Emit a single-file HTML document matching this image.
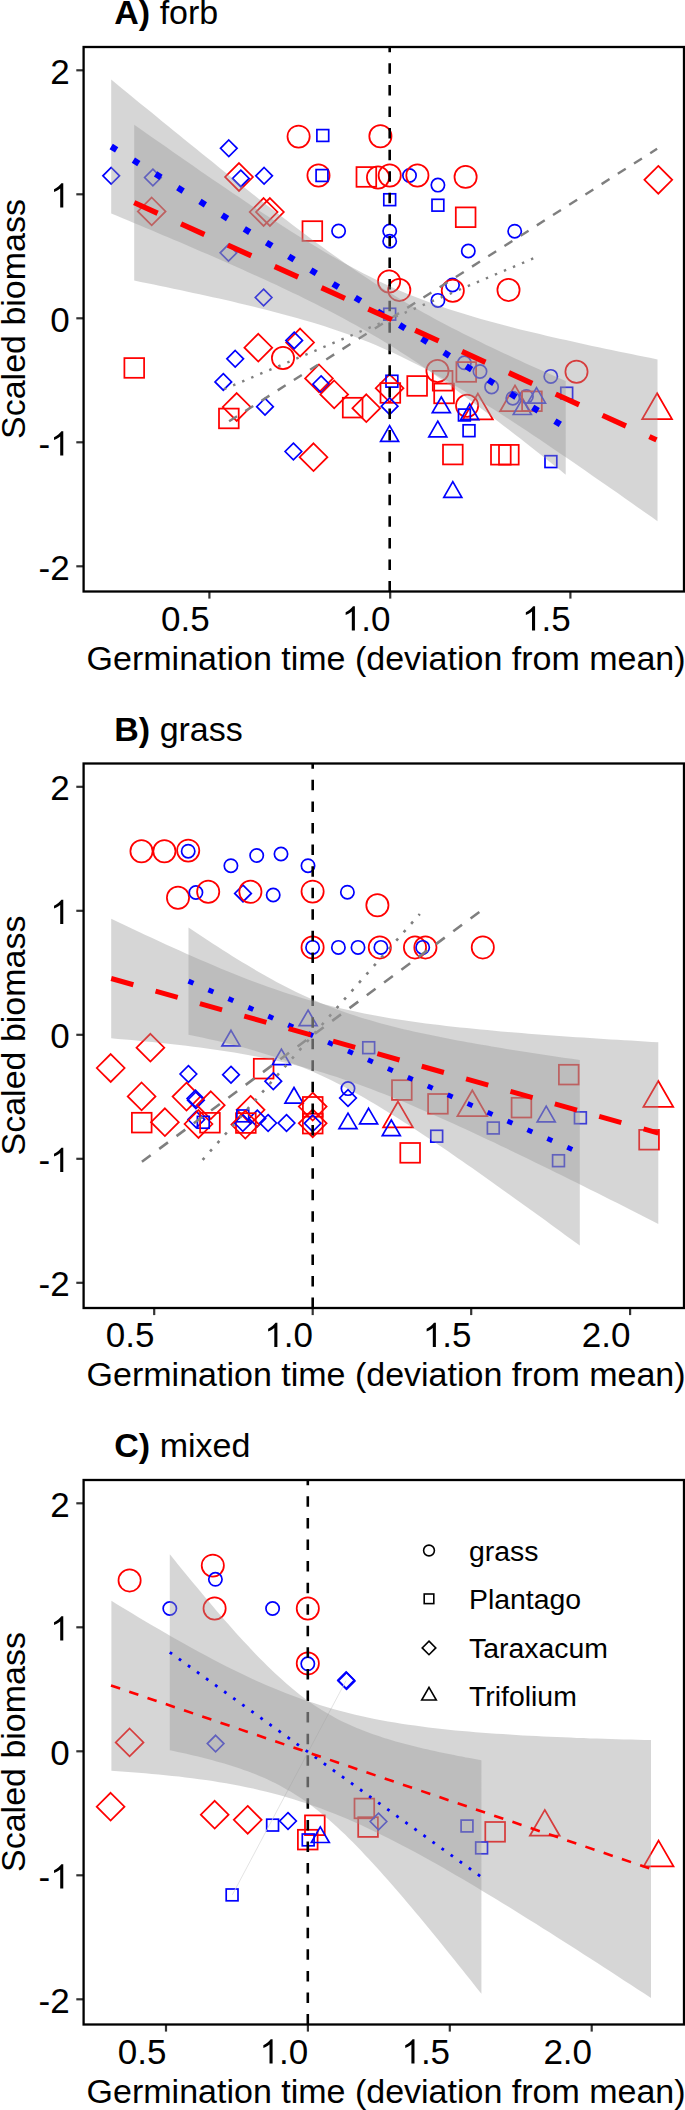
<!DOCTYPE html>
<html><head><meta charset="utf-8"><style>
html,body{margin:0;padding:0;background:#fff;}
svg{display:block;}
</style></head><body>
<svg width="685" height="2110" viewBox="0 0 685 2110"><text x="114.3" y="24.3" font-size="34" font-family="Liberation Sans, sans-serif"><tspan font-weight="bold">A)</tspan> forb</text>
<line x1="76.3" y1="70.3" x2="84.0" y2="70.3" stroke="#333333" stroke-width="2.2" stroke-linecap="butt"/>
<text x="50.2" y="83.5" font-size="35" text-anchor="start" font-family="Liberation Sans, sans-serif">2</text>
<line x1="76.3" y1="194.3" x2="84.0" y2="194.3" stroke="#333333" stroke-width="2.2" stroke-linecap="butt"/>
<path d="M763 0L583 0L583-1147C530-1097 450-1043 360-994C310-968 262-948 222-935L222-1110C305-1148 392-1199 470-1266C550-1335 614-1403 651-1466L763-1466Z" transform="translate(50.24 207.50) scale(0.01709 0.01651)" fill="#000"/>
<line x1="76.3" y1="318.3" x2="84.0" y2="318.3" stroke="#333333" stroke-width="2.2" stroke-linecap="butt"/>
<text x="50.2" y="331.5" font-size="35" text-anchor="start" font-family="Liberation Sans, sans-serif">0</text>
<line x1="76.3" y1="442.3" x2="84.0" y2="442.3" stroke="#333333" stroke-width="2.2" stroke-linecap="butt"/>
<text x="38.6" y="455.5" font-size="35" text-anchor="start" font-family="Liberation Sans, sans-serif">-</text>
<path d="M763 0L583 0L583-1147C530-1097 450-1043 360-994C310-968 262-948 222-935L222-1110C305-1148 392-1199 470-1266C550-1335 614-1403 651-1466L763-1466Z" transform="translate(50.24 455.50) scale(0.01709 0.01651)" fill="#000"/>
<line x1="76.3" y1="566.3" x2="84.0" y2="566.3" stroke="#333333" stroke-width="2.2" stroke-linecap="butt"/>
<text x="38.6" y="579.5" font-size="35" text-anchor="start" font-family="Liberation Sans, sans-serif">-2</text>
<line x1="209.4" y1="591.5" x2="209.4" y2="598.6" stroke="#333333" stroke-width="2.2" stroke-linecap="butt"/>
<text x="161.1" y="630.5" font-size="35" text-anchor="start" font-family="Liberation Sans, sans-serif">0.5</text>
<line x1="390.2" y1="591.5" x2="390.2" y2="598.6" stroke="#333333" stroke-width="2.2" stroke-linecap="butt"/>
<path d="M763 0L583 0L583-1147C530-1097 450-1043 360-994C310-968 262-948 222-935L222-1110C305-1148 392-1199 470-1266C550-1335 614-1403 651-1466L763-1466Z" transform="translate(341.85 630.50) scale(0.01709 0.01651)" fill="#000"/>
<text x="361.3" y="630.5" font-size="35" text-anchor="start" font-family="Liberation Sans, sans-serif">.0</text>
<line x1="570.4" y1="591.5" x2="570.4" y2="598.6" stroke="#333333" stroke-width="2.2" stroke-linecap="butt"/>
<path d="M763 0L583 0L583-1147C530-1097 450-1043 360-994C310-968 262-948 222-935L222-1110C305-1148 392-1199 470-1266C550-1335 614-1403 651-1466L763-1466Z" transform="translate(522.05 630.50) scale(0.01709 0.01651)" fill="#000"/>
<text x="541.5" y="630.5" font-size="35" text-anchor="start" font-family="Liberation Sans, sans-serif">.5</text>
<text x="86.6" y="669.6" font-size="34" text-anchor="start" font-family="Liberation Sans, sans-serif">Germination time (deviation from mean)</text>
<text x="0" y="0" font-size="34" text-anchor="middle" font-family="Liberation Sans, sans-serif" transform="translate(25.2 319.0) rotate(-90)">Scaled biomass</text>
<rect x="83.6" y="47.0" width="600.4" height="544.5" fill="none" stroke="#000" stroke-width="2.3"/>
<path d="M111.2 167.5L119.5 175.8L111.2 184.1L102.9 175.8Z" fill="none" stroke="#0000ff" stroke-width="1.7"/>
<path d="M152.9 169.2L161.2 177.5L152.9 185.8L144.6 177.5Z" fill="none" stroke="#0000ff" stroke-width="1.7"/>
<path d="M228.8 140.0L237.1 148.3L228.8 156.6L220.5 148.3Z" fill="none" stroke="#0000ff" stroke-width="1.7"/>
<path d="M239.0 163.1L252.9 177.0L239.0 190.9L225.1 177.0Z" fill="none" stroke="#ff0000" stroke-width="1.75"/>
<path d="M240.8 170.1L249.1 178.4L240.8 186.7L232.5 178.4Z" fill="none" stroke="#0000ff" stroke-width="1.7"/>
<path d="M264.1 167.5L272.4 175.8L264.1 184.1L255.8 175.8Z" fill="none" stroke="#0000ff" stroke-width="1.7"/>
<path d="M263.6 198.1L277.5 212.0L263.6 225.9L249.7 212.0Z" fill="none" stroke="#ff0000" stroke-width="1.75"/>
<path d="M269.9 198.1L283.8 212.0L269.9 225.9L256.0 212.0Z" fill="none" stroke="#ff0000" stroke-width="1.75"/>
<path d="M151.7 197.5L165.6 211.4L151.7 225.3L137.8 211.4Z" fill="none" stroke="#ff0000" stroke-width="1.75"/>
<circle cx="298.6" cy="136.6" r="11.10" fill="none" stroke="#ff0000" stroke-width="1.75"/>
<rect x="316.9" y="129.6" width="11.8" height="11.8" fill="none" stroke="#0000ff" stroke-width="1.7"/>
<circle cx="380.4" cy="136.3" r="11.10" fill="none" stroke="#ff0000" stroke-width="1.75"/>
<circle cx="318.5" cy="175.5" r="11.10" fill="none" stroke="#ff0000" stroke-width="1.75"/>
<rect x="316.1" y="169.6" width="11.8" height="11.8" fill="none" stroke="#0000ff" stroke-width="1.7"/>
<rect x="356.5" y="167.1" width="19.7" height="19.7" fill="none" stroke="#ff0000" stroke-width="1.75"/>
<circle cx="378.0" cy="177.5" r="11.10" fill="none" stroke="#ff0000" stroke-width="1.75"/>
<circle cx="389.7" cy="175.5" r="11.10" fill="none" stroke="#ff0000" stroke-width="1.75"/>
<circle cx="409.5" cy="175.5" r="6.65" fill="none" stroke="#0000ff" stroke-width="1.7"/>
<circle cx="417.4" cy="175.5" r="11.10" fill="none" stroke="#ff0000" stroke-width="1.75"/>
<circle cx="437.9" cy="185.1" r="6.65" fill="none" stroke="#0000ff" stroke-width="1.7"/>
<circle cx="465.6" cy="176.9" r="11.10" fill="none" stroke="#ff0000" stroke-width="1.75"/>
<rect x="383.8" y="193.8" width="11.8" height="11.8" fill="none" stroke="#0000ff" stroke-width="1.7"/>
<rect x="432.0" y="199.3" width="11.8" height="11.8" fill="none" stroke="#0000ff" stroke-width="1.7"/>
<rect x="455.8" y="207.4" width="19.7" height="19.7" fill="none" stroke="#ff0000" stroke-width="1.75"/>
<rect x="302.5" y="221.2" width="19.7" height="19.7" fill="none" stroke="#ff0000" stroke-width="1.75"/>
<circle cx="338.6" cy="231.0" r="6.65" fill="none" stroke="#0000ff" stroke-width="1.7"/>
<circle cx="389.7" cy="231.0" r="6.65" fill="none" stroke="#0000ff" stroke-width="1.7"/>
<circle cx="389.7" cy="241.2" r="6.65" fill="none" stroke="#0000ff" stroke-width="1.7"/>
<circle cx="468.3" cy="251.0" r="6.65" fill="none" stroke="#0000ff" stroke-width="1.7"/>
<path d="M658.3 165.9L672.2 179.8L658.3 193.7L644.4 179.8Z" fill="none" stroke="#ff0000" stroke-width="1.75"/>
<circle cx="514.7" cy="231.2" r="6.65" fill="none" stroke="#0000ff" stroke-width="1.7"/>
<path d="M228.5 244.5L236.8 252.8L228.5 261.1L220.2 252.8Z" fill="none" stroke="#0000ff" stroke-width="1.7"/>
<path d="M263.6 289.2L271.9 297.5L263.6 305.8L255.3 297.5Z" fill="none" stroke="#0000ff" stroke-width="1.7"/>
<path d="M258.3 333.8L272.2 347.7L258.3 361.6L244.4 347.7Z" fill="none" stroke="#ff0000" stroke-width="1.75"/>
<path d="M235.2 350.5L243.5 358.8L235.2 367.1L226.9 358.8Z" fill="none" stroke="#0000ff" stroke-width="1.7"/>
<rect x="124.4" y="358.1" width="19.7" height="19.7" fill="none" stroke="#ff0000" stroke-width="1.75"/>
<path d="M223.3 373.6L231.6 381.9L223.3 390.2L215.0 381.9Z" fill="none" stroke="#0000ff" stroke-width="1.7"/>
<path d="M236.7 393.1L250.6 407.0L236.7 420.9L222.8 407.0Z" fill="none" stroke="#ff0000" stroke-width="1.75"/>
<rect x="219.0" y="408.6" width="19.7" height="19.7" fill="none" stroke="#ff0000" stroke-width="1.75"/>
<path d="M265.0 398.4L273.3 406.7L265.0 415.0L256.7 406.7Z" fill="none" stroke="#0000ff" stroke-width="1.7"/>
<circle cx="283.0" cy="358.0" r="11.10" fill="none" stroke="#ff0000" stroke-width="1.75"/>
<circle cx="389.1" cy="281.5" r="11.10" fill="none" stroke="#ff0000" stroke-width="1.75"/>
<circle cx="399.3" cy="289.9" r="11.10" fill="none" stroke="#ff0000" stroke-width="1.75"/>
<circle cx="452.5" cy="285.0" r="6.65" fill="none" stroke="#0000ff" stroke-width="1.7"/>
<circle cx="452.8" cy="290.8" r="11.10" fill="none" stroke="#ff0000" stroke-width="1.75"/>
<circle cx="437.9" cy="300.4" r="6.65" fill="none" stroke="#0000ff" stroke-width="1.7"/>
<rect x="383.8" y="308.3" width="11.8" height="11.8" fill="none" stroke="#0000ff" stroke-width="1.7"/>
<path d="M300.1 328.6L314.0 342.5L300.1 356.4L286.2 342.5Z" fill="none" stroke="#ff0000" stroke-width="1.75"/>
<path d="M294.2 332.1L302.5 340.4L294.2 348.7L285.9 340.4Z" fill="none" stroke="#0000ff" stroke-width="1.7"/>
<path d="M319.0 364.5L332.9 378.4L319.0 392.3L305.1 378.4Z" fill="none" stroke="#ff0000" stroke-width="1.75"/>
<path d="M321.1 375.9L329.4 384.2L321.1 392.5L312.8 384.2Z" fill="none" stroke="#0000ff" stroke-width="1.7"/>
<path d="M334.2 380.5L348.1 394.4L334.2 408.3L320.3 394.4Z" fill="none" stroke="#ff0000" stroke-width="1.75"/>
<rect x="342.8" y="397.8" width="19.7" height="19.7" fill="none" stroke="#ff0000" stroke-width="1.75"/>
<path d="M366.3 394.3L380.2 408.2L366.3 422.1L352.4 408.2Z" fill="none" stroke="#ff0000" stroke-width="1.75"/>
<path d="M389.6 374.3L403.5 388.2L389.6 402.1L375.7 388.2Z" fill="none" stroke="#ff0000" stroke-width="1.75"/>
<rect x="386.0" y="375.3" width="11.8" height="11.8" fill="none" stroke="#0000ff" stroke-width="1.7"/>
<rect x="380.5" y="383.1" width="19.7" height="19.7" fill="none" stroke="#ff0000" stroke-width="1.75"/>
<path d="M389.6 397.9L397.9 406.2L389.6 414.5L381.3 406.2Z" fill="none" stroke="#0000ff" stroke-width="1.7"/>
<path d="M389.6 425.7L398.6 441.3L380.6 441.3Z" fill="none" stroke="#0000ff" stroke-width="1.7"/>
<rect x="407.3" y="376.1" width="19.7" height="19.7" fill="none" stroke="#ff0000" stroke-width="1.75"/>
<circle cx="437.5" cy="371.0" r="11.10" fill="none" stroke="#ff0000" stroke-width="1.75"/>
<rect x="432.8" y="370.9" width="19.7" height="19.7" fill="none" stroke="#ff0000" stroke-width="1.75"/>
<rect x="434.2" y="383.6" width="19.7" height="19.7" fill="none" stroke="#ff0000" stroke-width="1.75"/>
<circle cx="464.4" cy="362.8" r="6.65" fill="none" stroke="#0000ff" stroke-width="1.7"/>
<rect x="456.4" y="362.1" width="19.7" height="19.7" fill="none" stroke="#ff0000" stroke-width="1.75"/>
<circle cx="480.0" cy="371.5" r="6.65" fill="none" stroke="#0000ff" stroke-width="1.7"/>
<circle cx="491.6" cy="386.9" r="6.65" fill="none" stroke="#0000ff" stroke-width="1.7"/>
<path d="M441.3 397.0L450.3 412.6L432.3 412.6Z" fill="none" stroke="#0000ff" stroke-width="1.7"/>
<path d="M437.8 421.2L446.8 436.8L428.8 436.8Z" fill="none" stroke="#0000ff" stroke-width="1.7"/>
<circle cx="467.1" cy="405.7" r="11.10" fill="none" stroke="#ff0000" stroke-width="1.75"/>
<path d="M477.9 393.6L492.8 419.4L463.0 419.4Z" fill="none" stroke="#ff0000" stroke-width="1.75"/>
<rect x="458.5" y="409.1" width="11.8" height="11.8" fill="none" stroke="#0000ff" stroke-width="1.7"/>
<path d="M469.7 404.0L478.7 419.6L460.7 419.6Z" fill="none" stroke="#0000ff" stroke-width="1.7"/>
<rect x="463.1" y="424.8" width="11.8" height="11.8" fill="none" stroke="#0000ff" stroke-width="1.7"/>
<rect x="443.0" y="444.7" width="19.7" height="19.7" fill="none" stroke="#ff0000" stroke-width="1.75"/>
<rect x="491.0" y="444.9" width="19.7" height="19.7" fill="none" stroke="#ff0000" stroke-width="1.75"/>
<rect x="499.0" y="444.9" width="19.7" height="19.7" fill="none" stroke="#ff0000" stroke-width="1.75"/>
<path d="M452.8 481.7L461.8 497.3L443.8 497.3Z" fill="none" stroke="#0000ff" stroke-width="1.7"/>
<rect x="545.0" y="455.7" width="11.8" height="11.8" fill="none" stroke="#0000ff" stroke-width="1.7"/>
<path d="M657.1 393.3L672.0 419.1L642.2 419.1Z" fill="none" stroke="#ff0000" stroke-width="1.75"/>
<circle cx="508.5" cy="289.9" r="11.10" fill="none" stroke="#ff0000" stroke-width="1.75"/>
<circle cx="576.5" cy="371.7" r="11.10" fill="none" stroke="#ff0000" stroke-width="1.75"/>
<circle cx="550.8" cy="376.4" r="6.65" fill="none" stroke="#0000ff" stroke-width="1.7"/>
<rect x="560.8" y="387.3" width="11.8" height="11.8" fill="none" stroke="#0000ff" stroke-width="1.7"/>
<path d="M515.0 385.4L529.9 411.2L500.1 411.2Z" fill="none" stroke="#ff0000" stroke-width="1.75"/>
<circle cx="512.8" cy="398.2" r="6.65" fill="none" stroke="#0000ff" stroke-width="1.7"/>
<path d="M522.3 398.9L531.3 414.5L513.3 414.5Z" fill="none" stroke="#0000ff" stroke-width="1.7"/>
<circle cx="526.4" cy="396.5" r="6.65" fill="none" stroke="#0000ff" stroke-width="1.7"/>
<rect x="522.1" y="391.4" width="19.7" height="19.7" fill="none" stroke="#ff0000" stroke-width="1.75"/>
<path d="M536.5 387.6L545.5 403.2L527.5 403.2Z" fill="none" stroke="#0000ff" stroke-width="1.7"/>
<path d="M293.4 443.2L301.7 451.5L293.4 459.8L285.1 451.5Z" fill="none" stroke="#0000ff" stroke-width="1.7"/>
<path d="M313.5 443.3L327.4 457.2L313.5 471.1L299.6 457.2Z" fill="none" stroke="#ff0000" stroke-width="1.75"/>
<line x1="229.1" y1="421.3" x2="657.1" y2="148.8" stroke="#7f7f7f" stroke-width="2.4" stroke-dasharray="9.4 9.8" stroke-linecap="butt"/>
<line x1="224.1" y1="389.2" x2="533.4" y2="258.4" stroke="#7f7f7f" stroke-width="2.4" stroke-dasharray="2.45 7.35" stroke-linecap="butt"/>
<line x1="389.7" y1="47.0" x2="389.7" y2="591.5" stroke="#000" stroke-width="2.6" stroke-dasharray="10.5 11.07" stroke-dashoffset="5.2" stroke-linecap="butt"/>
<path d="M111.2 79.5L116.9 84.2L122.6 88.9L128.2 93.5L133.9 98.2L139.6 102.9L145.3 107.5L151.0 112.1L156.7 116.8L162.3 121.4L168.0 126.0L173.7 130.7L179.4 135.3L185.1 139.9L190.7 144.5L196.4 149.1L202.1 153.7L207.8 158.2L213.5 162.8L219.1 167.4L224.8 171.9L230.5 176.4L236.2 180.9L241.9 185.4L247.6 189.9L253.2 194.4L258.9 198.9L264.6 203.3L270.3 207.7L276.0 212.1L281.6 216.5L287.3 220.8L293.0 225.2L298.7 229.5L304.4 233.7L310.0 238.0L315.7 242.2L321.4 246.3L327.1 250.5L332.8 254.5L338.5 258.6L344.1 262.6L349.8 266.5L355.5 270.4L361.2 274.3L366.9 278.0L372.5 281.8L378.2 285.4L383.9 289.1L389.6 292.6L395.3 296.1L400.9 299.5L406.6 302.9L412.3 306.2L418.0 309.5L423.7 312.7L429.4 315.8L435.0 318.9L440.7 322.0L446.4 325.0L452.1 327.9L457.8 330.8L463.4 333.7L469.1 336.5L474.8 339.3L480.5 342.1L486.2 344.9L491.8 347.6L497.5 350.3L503.2 352.9L508.9 355.6L514.6 358.2L520.3 360.8L525.9 363.4L531.6 365.9L537.3 368.5L543.0 371.0L548.7 373.5L554.3 376.0L560.0 378.5L565.7 381.0L565.7 474.7L560.0 470.1L554.3 465.6L548.7 461.1L543.0 456.5L537.3 452.0L531.6 447.6L525.9 443.1L520.3 438.6L514.6 434.2L508.9 429.8L503.2 425.4L497.5 421.0L491.8 416.7L486.2 412.3L480.5 408.1L474.8 403.8L469.1 399.6L463.4 395.4L457.8 391.2L452.1 387.1L446.4 383.0L440.7 379.0L435.0 375.0L429.4 371.1L423.7 367.2L418.0 363.3L412.3 359.6L406.6 355.8L400.9 352.2L395.3 348.6L389.6 345.0L383.9 341.5L378.2 338.1L372.5 334.8L366.9 331.5L361.2 328.2L355.5 325.0L349.8 321.9L344.1 318.8L338.5 315.7L332.8 312.8L327.1 309.8L321.4 306.9L315.7 304.0L310.0 301.2L304.4 298.4L298.7 295.6L293.0 292.9L287.3 290.2L281.6 287.5L276.0 284.8L270.3 282.2L264.6 279.6L258.9 277.0L253.2 274.4L247.6 271.9L241.9 269.3L236.2 266.8L230.5 264.3L224.8 261.8L219.1 259.3L213.5 256.8L207.8 254.3L202.1 251.9L196.4 249.4L190.7 247.0L185.1 244.5L179.4 242.1L173.7 239.7L168.0 237.3L162.3 234.9L156.7 232.5L151.0 230.1L145.3 227.7L139.6 225.3L133.9 222.9L128.2 220.6L122.6 218.2L116.9 215.8L111.2 213.5Z" fill="#999999" fill-opacity="0.4"/>
<path d="M134.2 124.7L140.7 129.3L147.3 133.9L153.8 138.5L160.4 143.1L166.9 147.6L173.4 152.2L180.0 156.8L186.5 161.3L193.1 165.8L199.6 170.4L206.2 174.9L212.7 179.4L219.2 183.8L225.8 188.3L232.3 192.7L238.9 197.1L245.4 201.5L251.9 205.9L258.5 210.2L265.0 214.5L271.6 218.8L278.1 223.0L284.6 227.2L291.2 231.4L297.7 235.5L304.3 239.6L310.8 243.6L317.4 247.5L323.9 251.4L330.4 255.2L337.0 259.0L343.5 262.7L350.1 266.3L356.6 269.8L363.1 273.2L369.7 276.5L376.2 279.8L382.8 282.9L389.3 285.9L395.8 288.9L402.4 291.7L408.9 294.4L415.5 297.1L422.0 299.6L428.6 302.0L435.1 304.4L441.6 306.7L448.2 308.9L454.7 311.0L461.3 313.1L467.8 315.1L474.3 317.1L480.9 318.9L487.4 320.8L494.0 322.6L500.5 324.3L507.1 326.0L513.6 327.7L520.1 329.4L526.7 331.0L533.2 332.6L539.8 334.1L546.3 335.7L552.8 337.2L559.4 338.7L565.9 340.1L572.5 341.6L579.0 343.0L585.5 344.5L592.1 345.9L598.6 347.3L605.2 348.7L611.7 350.0L618.3 351.4L624.8 352.8L631.3 354.1L637.9 355.5L644.4 356.8L651.0 358.1L657.5 359.4L657.5 521.2L651.0 516.6L644.4 512.0L637.9 507.4L631.3 502.8L624.8 498.2L618.3 493.6L611.7 489.0L605.2 484.5L598.6 479.9L592.1 475.4L585.5 470.8L579.0 466.3L572.5 461.8L565.9 457.3L559.4 452.9L552.8 448.4L546.3 444.0L539.8 439.6L533.2 435.2L526.7 430.8L520.1 426.5L513.6 422.2L507.1 417.9L500.5 413.7L494.0 409.5L487.4 405.4L480.9 401.3L474.3 397.2L467.8 393.2L461.3 389.3L454.7 385.4L448.2 381.6L441.6 377.8L435.1 374.2L428.6 370.6L422.0 367.1L415.5 363.7L408.9 360.4L402.4 357.2L395.8 354.1L389.3 351.1L382.8 348.2L376.2 345.3L369.7 342.6L363.1 340.0L356.6 337.5L350.1 335.1L343.5 332.7L337.0 330.4L330.4 328.3L323.9 326.1L317.4 324.1L310.8 322.1L304.3 320.2L297.7 318.3L291.2 316.5L284.6 314.7L278.1 312.9L271.6 311.2L265.0 309.6L258.5 307.9L251.9 306.3L245.4 304.7L238.9 303.2L232.3 301.6L225.8 300.1L219.2 298.6L212.7 297.2L206.2 295.7L199.6 294.3L193.1 292.9L186.5 291.4L180.0 290.0L173.4 288.7L166.9 287.3L160.4 285.9L153.8 284.6L147.3 283.2L140.7 281.9L134.2 280.5Z" fill="#999999" fill-opacity="0.4"/>
<line x1="111.2" y1="146.5" x2="565.7" y2="427.8" stroke="#0000ff" stroke-width="6.2" stroke-dasharray="6.4 19.69" stroke-linecap="butt"/>
<line x1="134.2" y1="202.6" x2="656.5" y2="439.9" stroke="#ff0000" stroke-width="5.4" stroke-dasharray="25.72 25.72" stroke-linecap="butt"/>
<text x="114.3" y="740.8" font-size="34" font-family="Liberation Sans, sans-serif"><tspan font-weight="bold">B)</tspan> grass</text>
<line x1="76.3" y1="786.8" x2="84.0" y2="786.8" stroke="#333333" stroke-width="2.2" stroke-linecap="butt"/>
<text x="50.2" y="800.0" font-size="35" text-anchor="start" font-family="Liberation Sans, sans-serif">2</text>
<line x1="76.3" y1="910.8" x2="84.0" y2="910.8" stroke="#333333" stroke-width="2.2" stroke-linecap="butt"/>
<path d="M763 0L583 0L583-1147C530-1097 450-1043 360-994C310-968 262-948 222-935L222-1110C305-1148 392-1199 470-1266C550-1335 614-1403 651-1466L763-1466Z" transform="translate(50.24 924.00) scale(0.01709 0.01651)" fill="#000"/>
<line x1="76.3" y1="1034.8" x2="84.0" y2="1034.8" stroke="#333333" stroke-width="2.2" stroke-linecap="butt"/>
<text x="50.2" y="1048.0" font-size="35" text-anchor="start" font-family="Liberation Sans, sans-serif">0</text>
<line x1="76.3" y1="1158.8" x2="84.0" y2="1158.8" stroke="#333333" stroke-width="2.2" stroke-linecap="butt"/>
<text x="38.6" y="1172.0" font-size="35" text-anchor="start" font-family="Liberation Sans, sans-serif">-</text>
<path d="M763 0L583 0L583-1147C530-1097 450-1043 360-994C310-968 262-948 222-935L222-1110C305-1148 392-1199 470-1266C550-1335 614-1403 651-1466L763-1466Z" transform="translate(50.24 1172.00) scale(0.01709 0.01651)" fill="#000"/>
<line x1="76.3" y1="1282.8" x2="84.0" y2="1282.8" stroke="#333333" stroke-width="2.2" stroke-linecap="butt"/>
<text x="38.6" y="1296.0" font-size="35" text-anchor="start" font-family="Liberation Sans, sans-serif">-2</text>
<line x1="154.2" y1="1308.0" x2="154.2" y2="1315.1" stroke="#333333" stroke-width="2.2" stroke-linecap="butt"/>
<text x="105.8" y="1347.0" font-size="35" text-anchor="start" font-family="Liberation Sans, sans-serif">0.5</text>
<line x1="312.7" y1="1308.0" x2="312.7" y2="1315.1" stroke="#333333" stroke-width="2.2" stroke-linecap="butt"/>
<path d="M763 0L583 0L583-1147C530-1097 450-1043 360-994C310-968 262-948 222-935L222-1110C305-1148 392-1199 470-1266C550-1335 614-1403 651-1466L763-1466Z" transform="translate(264.35 1347.00) scale(0.01709 0.01651)" fill="#000"/>
<text x="283.8" y="1347.0" font-size="35" text-anchor="start" font-family="Liberation Sans, sans-serif">.0</text>
<line x1="471.2" y1="1308.0" x2="471.2" y2="1315.1" stroke="#333333" stroke-width="2.2" stroke-linecap="butt"/>
<path d="M763 0L583 0L583-1147C530-1097 450-1043 360-994C310-968 262-948 222-935L222-1110C305-1148 392-1199 470-1266C550-1335 614-1403 651-1466L763-1466Z" transform="translate(422.85 1347.00) scale(0.01709 0.01651)" fill="#000"/>
<text x="442.3" y="1347.0" font-size="35" text-anchor="start" font-family="Liberation Sans, sans-serif">.5</text>
<line x1="630.1" y1="1308.0" x2="630.1" y2="1315.1" stroke="#333333" stroke-width="2.2" stroke-linecap="butt"/>
<text x="581.8" y="1347.0" font-size="35" text-anchor="start" font-family="Liberation Sans, sans-serif">2.0</text>
<text x="86.6" y="1386.1" font-size="34" text-anchor="start" font-family="Liberation Sans, sans-serif">Germination time (deviation from mean)</text>
<text x="0" y="0" font-size="34" text-anchor="middle" font-family="Liberation Sans, sans-serif" transform="translate(25.2 1035.5) rotate(-90)">Scaled biomass</text>
<rect x="83.6" y="763.5" width="600.4" height="544.5" fill="none" stroke="#000" stroke-width="2.3"/>
<circle cx="141.5" cy="851.3" r="11.10" fill="none" stroke="#ff0000" stroke-width="1.75"/>
<circle cx="164.4" cy="851.3" r="11.10" fill="none" stroke="#ff0000" stroke-width="1.75"/>
<circle cx="188.2" cy="850.6" r="11.10" fill="none" stroke="#ff0000" stroke-width="1.75"/>
<circle cx="188.2" cy="851.2" r="6.65" fill="none" stroke="#0000ff" stroke-width="1.7"/>
<circle cx="230.9" cy="865.7" r="6.65" fill="none" stroke="#0000ff" stroke-width="1.7"/>
<circle cx="256.7" cy="855.5" r="6.65" fill="none" stroke="#0000ff" stroke-width="1.7"/>
<circle cx="281.0" cy="854.0" r="6.65" fill="none" stroke="#0000ff" stroke-width="1.7"/>
<circle cx="308.0" cy="865.7" r="6.65" fill="none" stroke="#0000ff" stroke-width="1.7"/>
<circle cx="178.0" cy="897.8" r="11.10" fill="none" stroke="#ff0000" stroke-width="1.75"/>
<circle cx="195.9" cy="892.5" r="6.65" fill="none" stroke="#0000ff" stroke-width="1.7"/>
<circle cx="208.2" cy="891.8" r="11.10" fill="none" stroke="#ff0000" stroke-width="1.75"/>
<path d="M243.0 885.1L251.3 893.4L243.0 901.7L234.7 893.4Z" fill="none" stroke="#0000ff" stroke-width="1.7"/>
<circle cx="250.4" cy="891.8" r="11.10" fill="none" stroke="#ff0000" stroke-width="1.75"/>
<circle cx="273.2" cy="895.0" r="6.65" fill="none" stroke="#0000ff" stroke-width="1.7"/>
<circle cx="312.6" cy="891.6" r="11.10" fill="none" stroke="#ff0000" stroke-width="1.75"/>
<circle cx="347.4" cy="892.2" r="6.65" fill="none" stroke="#0000ff" stroke-width="1.7"/>
<circle cx="377.4" cy="905.2" r="11.10" fill="none" stroke="#ff0000" stroke-width="1.75"/>
<circle cx="312.6" cy="947.4" r="11.10" fill="none" stroke="#ff0000" stroke-width="1.75"/>
<circle cx="312.6" cy="947.4" r="6.65" fill="none" stroke="#0000ff" stroke-width="1.7"/>
<circle cx="338.4" cy="947.4" r="6.65" fill="none" stroke="#0000ff" stroke-width="1.7"/>
<circle cx="358.0" cy="947.4" r="6.65" fill="none" stroke="#0000ff" stroke-width="1.7"/>
<circle cx="379.8" cy="947.4" r="11.10" fill="none" stroke="#ff0000" stroke-width="1.75"/>
<circle cx="380.9" cy="947.4" r="6.65" fill="none" stroke="#0000ff" stroke-width="1.7"/>
<circle cx="415.0" cy="947.4" r="11.10" fill="none" stroke="#ff0000" stroke-width="1.75"/>
<circle cx="425.4" cy="947.4" r="11.10" fill="none" stroke="#ff0000" stroke-width="1.75"/>
<circle cx="422.7" cy="947.4" r="6.65" fill="none" stroke="#0000ff" stroke-width="1.7"/>
<circle cx="482.8" cy="947.4" r="11.10" fill="none" stroke="#ff0000" stroke-width="1.75"/>
<path d="M150.4 1033.8L164.3 1047.7L150.4 1061.6L136.5 1047.7Z" fill="none" stroke="#ff0000" stroke-width="1.75"/>
<path d="M110.7 1054.1L124.6 1068.0L110.7 1081.9L96.8 1068.0Z" fill="none" stroke="#ff0000" stroke-width="1.75"/>
<path d="M231.0 1030.3L240.0 1045.9L222.0 1045.9Z" fill="none" stroke="#0000ff" stroke-width="1.7"/>
<rect x="253.8" y="1058.8" width="19.7" height="19.7" fill="none" stroke="#ff0000" stroke-width="1.75"/>
<path d="M281.4 1049.1L290.4 1064.7L272.4 1064.7Z" fill="none" stroke="#0000ff" stroke-width="1.7"/>
<path d="M188.4 1065.7L196.7 1074.0L188.4 1082.3L180.1 1074.0Z" fill="none" stroke="#0000ff" stroke-width="1.7"/>
<path d="M231.0 1066.4L239.3 1074.7L231.0 1083.0L222.7 1074.7Z" fill="none" stroke="#0000ff" stroke-width="1.7"/>
<path d="M273.3 1072.9L281.6 1081.2L273.3 1089.5L265.0 1081.2Z" fill="none" stroke="#0000ff" stroke-width="1.7"/>
<path d="M141.6 1082.5L155.5 1096.4L141.6 1110.3L127.7 1096.4Z" fill="none" stroke="#ff0000" stroke-width="1.75"/>
<path d="M186.5 1082.7L200.4 1096.6L186.5 1110.5L172.6 1096.6Z" fill="none" stroke="#ff0000" stroke-width="1.75"/>
<path d="M195.4 1090.2L203.7 1098.5L195.4 1106.8L187.1 1098.5Z" fill="none" stroke="#0000ff" stroke-width="1.7"/>
<path d="M195.9 1091.9L204.2 1100.2L195.9 1108.5L187.6 1100.2Z" fill="none" stroke="#0000ff" stroke-width="1.7"/>
<path d="M210.8 1091.3L224.7 1105.2L210.8 1119.1L196.9 1105.2Z" fill="none" stroke="#ff0000" stroke-width="1.75"/>
<path d="M250.6 1095.9L264.5 1109.8L250.6 1123.7L236.7 1109.8Z" fill="none" stroke="#ff0000" stroke-width="1.75"/>
<path d="M257.3 1110.2L265.6 1118.5L257.3 1126.8L249.0 1118.5Z" fill="none" stroke="#0000ff" stroke-width="1.7"/>
<rect x="131.9" y="1112.8" width="19.7" height="19.7" fill="none" stroke="#ff0000" stroke-width="1.75"/>
<path d="M164.9 1108.3L178.8 1122.2L164.9 1136.1L151.0 1122.2Z" fill="none" stroke="#ff0000" stroke-width="1.75"/>
<path d="M196.3 1111.3L204.6 1119.6L196.3 1127.9L188.0 1119.6Z" fill="none" stroke="#0000ff" stroke-width="1.7"/>
<path d="M198.5 1110.1L212.4 1124.0L198.5 1137.9L184.6 1124.0Z" fill="none" stroke="#ff0000" stroke-width="1.75"/>
<rect x="197.4" y="1116.4" width="11.8" height="11.8" fill="none" stroke="#0000ff" stroke-width="1.7"/>
<rect x="200.1" y="1112.9" width="19.7" height="19.7" fill="none" stroke="#ff0000" stroke-width="1.75"/>
<rect x="236.0" y="1113.2" width="19.7" height="19.7" fill="none" stroke="#ff0000" stroke-width="1.75"/>
<rect x="236.9" y="1110.0" width="11.8" height="11.8" fill="none" stroke="#0000ff" stroke-width="1.7"/>
<path d="M242.8 1114.7L251.1 1123.0L242.8 1131.3L234.5 1123.0Z" fill="none" stroke="#0000ff" stroke-width="1.7"/>
<path d="M245.3 1110.7L259.2 1124.6L245.3 1138.5L231.4 1124.6Z" fill="none" stroke="#ff0000" stroke-width="1.75"/>
<path d="M268.1 1114.7L276.4 1123.0L268.1 1131.3L259.8 1123.0Z" fill="none" stroke="#0000ff" stroke-width="1.7"/>
<path d="M286.5 1114.7L294.8 1123.0L286.5 1131.3L278.2 1123.0Z" fill="none" stroke="#0000ff" stroke-width="1.7"/>
<path d="M308.1 1010.1L317.1 1025.7L299.1 1025.7Z" fill="none" stroke="#0000ff" stroke-width="1.7"/>
<rect x="362.8" y="1041.8" width="11.8" height="11.8" fill="none" stroke="#0000ff" stroke-width="1.7"/>
<rect x="392.0" y="1080.2" width="19.7" height="19.7" fill="none" stroke="#ff0000" stroke-width="1.75"/>
<rect x="428.1" y="1094.0" width="19.7" height="19.7" fill="none" stroke="#ff0000" stroke-width="1.75"/>
<path d="M472.3 1090.3L487.2 1116.1L457.4 1116.1Z" fill="none" stroke="#ff0000" stroke-width="1.75"/>
<path d="M398.0 1101.6L412.9 1127.4L383.1 1127.4Z" fill="none" stroke="#ff0000" stroke-width="1.75"/>
<circle cx="348.0" cy="1088.6" r="6.65" fill="none" stroke="#0000ff" stroke-width="1.7"/>
<path d="M348.0 1089.7L356.3 1098.0L348.0 1106.3L339.7 1098.0Z" fill="none" stroke="#0000ff" stroke-width="1.7"/>
<path d="M294.0 1087.5L303.0 1103.1L285.0 1103.1Z" fill="none" stroke="#0000ff" stroke-width="1.7"/>
<path d="M312.7 1092.7L326.6 1106.6L312.7 1120.5L298.8 1106.6Z" fill="none" stroke="#ff0000" stroke-width="1.75"/>
<rect x="302.9" y="1097.0" width="19.7" height="19.7" fill="none" stroke="#ff0000" stroke-width="1.75"/>
<path d="M312.7 1109.4L326.6 1123.3L312.7 1137.2L298.8 1123.3Z" fill="none" stroke="#ff0000" stroke-width="1.75"/>
<rect x="302.9" y="1113.8" width="19.7" height="19.7" fill="none" stroke="#ff0000" stroke-width="1.75"/>
<path d="M312.7 1115.0L321.0 1123.3L312.7 1131.6L304.4 1123.3Z" fill="none" stroke="#0000ff" stroke-width="1.7"/>
<path d="M348.0 1113.1L357.0 1128.7L339.0 1128.7Z" fill="none" stroke="#0000ff" stroke-width="1.7"/>
<path d="M368.6 1108.3L377.6 1123.9L359.6 1123.9Z" fill="none" stroke="#0000ff" stroke-width="1.7"/>
<path d="M391.3 1120.0L400.3 1135.6L382.3 1135.6Z" fill="none" stroke="#0000ff" stroke-width="1.7"/>
<rect x="430.8" y="1130.3" width="11.8" height="11.8" fill="none" stroke="#0000ff" stroke-width="1.7"/>
<rect x="400.3" y="1143.0" width="19.7" height="19.7" fill="none" stroke="#ff0000" stroke-width="1.75"/>
<rect x="558.9" y="1064.8" width="19.7" height="19.7" fill="none" stroke="#ff0000" stroke-width="1.75"/>
<rect x="511.6" y="1097.8" width="19.7" height="19.7" fill="none" stroke="#ff0000" stroke-width="1.75"/>
<path d="M546.2 1106.2L555.2 1121.8L537.2 1121.8Z" fill="none" stroke="#0000ff" stroke-width="1.7"/>
<rect x="574.5" y="1111.9" width="11.8" height="11.8" fill="none" stroke="#0000ff" stroke-width="1.7"/>
<rect x="487.4" y="1122.1" width="11.8" height="11.8" fill="none" stroke="#0000ff" stroke-width="1.7"/>
<rect x="552.6" y="1154.8" width="11.8" height="11.8" fill="none" stroke="#0000ff" stroke-width="1.7"/>
<path d="M658.3 1081.0L673.2 1106.8L643.4 1106.8Z" fill="none" stroke="#ff0000" stroke-width="1.75"/>
<rect x="639.2" y="1129.9" width="19.7" height="19.7" fill="none" stroke="#ff0000" stroke-width="1.75"/>
<line x1="141.9" y1="1161.7" x2="479.9" y2="911.6" stroke="#7f7f7f" stroke-width="2.6" stroke-dasharray="10.9 10.62" stroke-linecap="butt"/>
<line x1="202.6" y1="1159.9" x2="419.8" y2="914.0" stroke="#7f7f7f" stroke-width="2.6" stroke-dasharray="2.8 8.45" stroke-linecap="butt"/>
<line x1="312.7" y1="763.5" x2="312.7" y2="1308.0" stroke="#000" stroke-width="2.6" stroke-dasharray="10.5 11.07" stroke-dashoffset="5.2" stroke-linecap="butt"/>
<path d="M111.2 918.7L118.0 921.9L124.9 925.2L131.7 928.5L138.6 931.7L145.4 934.9L152.2 938.1L159.1 941.3L165.9 944.4L172.7 947.5L179.6 950.6L186.4 953.7L193.3 956.7L200.1 959.7L206.9 962.6L213.8 965.5L220.6 968.4L227.5 971.2L234.3 974.0L241.1 976.7L248.0 979.4L254.8 981.9L261.7 984.5L268.5 986.9L275.3 989.3L282.2 991.7L289.0 993.9L295.8 996.1L302.7 998.2L309.5 1000.2L316.4 1002.1L323.2 1003.9L330.0 1005.7L336.9 1007.4L343.7 1009.0L350.6 1010.6L357.4 1012.0L364.2 1013.4L371.1 1014.7L377.9 1016.0L384.7 1017.2L391.6 1018.4L398.4 1019.5L405.3 1020.5L412.1 1021.5L418.9 1022.5L425.8 1023.4L432.6 1024.2L439.5 1025.1L446.3 1025.9L453.1 1026.7L460.0 1027.4L466.8 1028.1L473.7 1028.8L480.5 1029.5L487.3 1030.1L494.2 1030.8L501.0 1031.4L507.8 1032.0L514.7 1032.5L521.5 1033.1L528.4 1033.7L535.2 1034.2L542.0 1034.7L548.9 1035.2L555.7 1035.7L562.6 1036.2L569.4 1036.7L576.2 1037.2L583.1 1037.6L589.9 1038.1L596.8 1038.5L603.6 1039.0L610.4 1039.4L617.3 1039.8L624.1 1040.2L630.9 1040.6L637.8 1041.1L644.6 1041.5L651.5 1041.9L658.3 1042.3L658.3 1223.9L651.5 1220.4L644.6 1216.9L637.8 1213.5L630.9 1210.0L624.1 1206.6L617.3 1203.1L610.4 1199.7L603.6 1196.2L596.8 1192.8L589.9 1189.4L583.1 1186.0L576.2 1182.6L569.4 1179.2L562.6 1175.8L555.7 1172.4L548.9 1169.1L542.0 1165.7L535.2 1162.4L528.4 1159.0L521.5 1155.7L514.7 1152.4L507.8 1149.1L501.0 1145.9L494.2 1142.6L487.3 1139.4L480.5 1136.2L473.7 1133.0L466.8 1129.8L460.0 1126.7L453.1 1123.5L446.3 1120.4L439.5 1117.4L432.6 1114.4L425.8 1111.4L418.9 1108.4L412.1 1105.5L405.3 1102.6L398.4 1099.8L391.6 1097.1L384.7 1094.3L377.9 1091.7L371.1 1089.1L364.2 1086.5L357.4 1084.1L350.6 1081.7L343.7 1079.4L336.9 1077.1L330.0 1074.9L323.2 1072.8L316.4 1070.8L309.5 1068.9L302.7 1067.0L295.8 1065.3L289.0 1063.6L282.2 1061.9L275.3 1060.4L268.5 1058.9L261.7 1057.5L254.8 1056.2L248.0 1054.9L241.1 1053.7L234.3 1052.6L227.5 1051.5L220.6 1050.4L213.8 1049.4L206.9 1048.5L200.1 1047.5L193.3 1046.7L186.4 1045.8L179.6 1045.0L172.7 1044.2L165.9 1043.5L159.1 1042.8L152.2 1042.1L145.4 1041.4L138.6 1040.8L131.7 1040.1L124.9 1039.5L118.0 1038.9L111.2 1038.3Z" fill="#999999" fill-opacity="0.4"/>
<path d="M188.5 927.4L193.4 930.7L198.3 934.0L203.2 937.2L208.1 940.5L213.0 943.7L217.8 946.8L222.7 950.0L227.6 953.1L232.5 956.2L237.4 959.2L242.3 962.2L247.2 965.1L252.1 968.1L257.0 970.9L261.9 973.7L266.8 976.5L271.7 979.2L276.5 981.9L281.4 984.5L286.3 987.0L291.2 989.5L296.1 991.9L301.0 994.2L305.9 996.5L310.8 998.7L315.7 1000.8L320.6 1002.9L325.5 1004.9L330.3 1006.8L335.2 1008.7L340.1 1010.5L345.0 1012.3L349.9 1014.0L354.8 1015.6L359.7 1017.2L364.6 1018.7L369.5 1020.1L374.4 1021.6L379.3 1022.9L384.1 1024.3L389.0 1025.5L393.9 1026.8L398.8 1028.0L403.7 1029.2L408.6 1030.3L413.5 1031.4L418.4 1032.5L423.3 1033.6L428.2 1034.6L433.1 1035.6L438.0 1036.6L442.8 1037.6L447.7 1038.6L452.6 1039.5L457.5 1040.4L462.4 1041.3L467.3 1042.2L472.2 1043.1L477.1 1043.9L482.0 1044.8L486.9 1045.6L491.8 1046.4L496.6 1047.3L501.5 1048.1L506.4 1048.9L511.3 1049.7L516.2 1050.4L521.1 1051.2L526.0 1052.0L530.9 1052.7L535.8 1053.5L540.7 1054.2L545.6 1055.0L550.5 1055.7L555.3 1056.4L560.2 1057.2L565.1 1057.9L570.0 1058.6L574.9 1059.3L579.8 1060.0L579.8 1245.6L574.9 1242.0L570.0 1238.4L565.1 1234.9L560.2 1231.3L555.3 1227.7L550.5 1224.2L545.6 1220.6L540.7 1217.0L535.8 1213.5L530.9 1210.0L526.0 1206.4L521.1 1202.9L516.2 1199.4L511.3 1195.9L506.4 1192.4L501.5 1188.9L496.6 1185.4L491.8 1181.9L486.9 1178.4L482.0 1175.0L477.1 1171.5L472.2 1168.1L467.3 1164.7L462.4 1161.3L457.5 1157.9L452.6 1154.5L447.7 1151.1L442.8 1147.8L438.0 1144.5L433.1 1141.2L428.2 1137.9L423.3 1134.7L418.4 1131.4L413.5 1128.2L408.6 1125.0L403.7 1121.9L398.8 1118.8L393.9 1115.7L389.0 1112.7L384.1 1109.7L379.3 1106.7L374.4 1103.8L369.5 1100.9L364.6 1098.1L359.7 1095.3L354.8 1092.6L349.9 1089.9L345.0 1087.3L340.1 1084.7L335.2 1082.3L330.3 1079.8L325.5 1077.5L320.6 1075.2L315.7 1073.0L310.8 1070.8L305.9 1068.7L301.0 1066.7L296.1 1064.8L291.2 1062.9L286.3 1061.1L281.4 1059.3L276.5 1057.6L271.7 1056.0L266.8 1054.4L261.9 1052.9L257.0 1051.4L252.1 1049.9L247.2 1048.6L242.3 1047.2L237.4 1045.9L232.5 1044.7L227.6 1043.5L222.7 1042.3L217.8 1041.1L213.0 1040.0L208.1 1038.9L203.2 1037.8L198.3 1036.8L193.4 1035.8L188.5 1034.8Z" fill="#999999" fill-opacity="0.4"/>
<line x1="188.5" y1="981.1" x2="579.8" y2="1152.8" stroke="#0000ff" stroke-width="5.0" stroke-dasharray="5.4 16.37" stroke-linecap="butt"/>
<line x1="111.2" y1="978.5" x2="658.3" y2="1133.1" stroke="#ff0000" stroke-width="5.0" stroke-dasharray="23 23.1" stroke-linecap="butt"/>
<text x="114.3" y="1457.3" font-size="34" font-family="Liberation Sans, sans-serif"><tspan font-weight="bold">C)</tspan> mixed</text>
<line x1="76.3" y1="1503.3" x2="84.0" y2="1503.3" stroke="#333333" stroke-width="2.2" stroke-linecap="butt"/>
<text x="50.2" y="1516.5" font-size="35" text-anchor="start" font-family="Liberation Sans, sans-serif">2</text>
<line x1="76.3" y1="1627.3" x2="84.0" y2="1627.3" stroke="#333333" stroke-width="2.2" stroke-linecap="butt"/>
<path d="M763 0L583 0L583-1147C530-1097 450-1043 360-994C310-968 262-948 222-935L222-1110C305-1148 392-1199 470-1266C550-1335 614-1403 651-1466L763-1466Z" transform="translate(50.24 1640.50) scale(0.01709 0.01651)" fill="#000"/>
<line x1="76.3" y1="1751.3" x2="84.0" y2="1751.3" stroke="#333333" stroke-width="2.2" stroke-linecap="butt"/>
<text x="50.2" y="1764.5" font-size="35" text-anchor="start" font-family="Liberation Sans, sans-serif">0</text>
<line x1="76.3" y1="1875.3" x2="84.0" y2="1875.3" stroke="#333333" stroke-width="2.2" stroke-linecap="butt"/>
<text x="38.6" y="1888.5" font-size="35" text-anchor="start" font-family="Liberation Sans, sans-serif">-</text>
<path d="M763 0L583 0L583-1147C530-1097 450-1043 360-994C310-968 262-948 222-935L222-1110C305-1148 392-1199 470-1266C550-1335 614-1403 651-1466L763-1466Z" transform="translate(50.24 1888.50) scale(0.01709 0.01651)" fill="#000"/>
<line x1="76.3" y1="1999.3" x2="84.0" y2="1999.3" stroke="#333333" stroke-width="2.2" stroke-linecap="butt"/>
<text x="38.6" y="2012.5" font-size="35" text-anchor="start" font-family="Liberation Sans, sans-serif">-2</text>
<line x1="166.0" y1="2024.5" x2="166.0" y2="2031.6" stroke="#333333" stroke-width="2.2" stroke-linecap="butt"/>
<text x="117.7" y="2063.5" font-size="35" text-anchor="start" font-family="Liberation Sans, sans-serif">0.5</text>
<line x1="307.9" y1="2024.5" x2="307.9" y2="2031.6" stroke="#333333" stroke-width="2.2" stroke-linecap="butt"/>
<path d="M763 0L583 0L583-1147C530-1097 450-1043 360-994C310-968 262-948 222-935L222-1110C305-1148 392-1199 470-1266C550-1335 614-1403 651-1466L763-1466Z" transform="translate(259.55 2063.50) scale(0.01709 0.01651)" fill="#000"/>
<text x="279.0" y="2063.5" font-size="35" text-anchor="start" font-family="Liberation Sans, sans-serif">.0</text>
<line x1="449.8" y1="2024.5" x2="449.8" y2="2031.6" stroke="#333333" stroke-width="2.2" stroke-linecap="butt"/>
<path d="M763 0L583 0L583-1147C530-1097 450-1043 360-994C310-968 262-948 222-935L222-1110C305-1148 392-1199 470-1266C550-1335 614-1403 651-1466L763-1466Z" transform="translate(401.45 2063.50) scale(0.01709 0.01651)" fill="#000"/>
<text x="420.9" y="2063.5" font-size="35" text-anchor="start" font-family="Liberation Sans, sans-serif">.5</text>
<line x1="591.7" y1="2024.5" x2="591.7" y2="2031.6" stroke="#333333" stroke-width="2.2" stroke-linecap="butt"/>
<text x="543.4" y="2063.5" font-size="35" text-anchor="start" font-family="Liberation Sans, sans-serif">2.0</text>
<text x="86.6" y="2102.6" font-size="34" text-anchor="start" font-family="Liberation Sans, sans-serif">Germination time (deviation from mean)</text>
<text x="0" y="0" font-size="34" text-anchor="middle" font-family="Liberation Sans, sans-serif" transform="translate(25.2 1752.0) rotate(-90)">Scaled biomass</text>
<rect x="83.6" y="1480.0" width="600.4" height="544.5" fill="none" stroke="#000" stroke-width="2.3"/>
<circle cx="129.6" cy="1580.4" r="11.10" fill="none" stroke="#ff0000" stroke-width="1.75"/>
<circle cx="212.8" cy="1565.6" r="11.10" fill="none" stroke="#ff0000" stroke-width="1.75"/>
<circle cx="215.4" cy="1579.3" r="6.65" fill="none" stroke="#0000ff" stroke-width="1.7"/>
<circle cx="169.8" cy="1608.5" r="6.65" fill="none" stroke="#0000ff" stroke-width="1.7"/>
<circle cx="214.6" cy="1608.5" r="11.10" fill="none" stroke="#ff0000" stroke-width="1.75"/>
<circle cx="272.6" cy="1608.5" r="6.65" fill="none" stroke="#0000ff" stroke-width="1.7"/>
<circle cx="307.8" cy="1608.5" r="11.10" fill="none" stroke="#ff0000" stroke-width="1.75"/>
<circle cx="307.8" cy="1663.4" r="11.10" fill="none" stroke="#ff0000" stroke-width="1.75"/>
<circle cx="307.8" cy="1663.8" r="6.65" fill="none" stroke="#0000ff" stroke-width="1.7"/>
<path d="M129.6 1728.5L143.5 1742.4L129.6 1756.3L115.7 1742.4Z" fill="none" stroke="#ff0000" stroke-width="1.75"/>
<path d="M215.6 1735.3L223.9 1743.6L215.6 1751.9L207.3 1743.6Z" fill="none" stroke="#0000ff" stroke-width="1.7"/>
<path d="M110.6 1792.8L124.5 1806.7L110.6 1820.6L96.7 1806.7Z" fill="none" stroke="#ff0000" stroke-width="1.75"/>
<path d="M214.7 1800.8L228.6 1814.7L214.7 1828.6L200.8 1814.7Z" fill="none" stroke="#ff0000" stroke-width="1.75"/>
<path d="M247.7 1805.9L261.6 1819.8L247.7 1833.7L233.8 1819.8Z" fill="none" stroke="#ff0000" stroke-width="1.75"/>
<rect x="266.7" y="1819.2" width="11.8" height="11.8" fill="none" stroke="#0000ff" stroke-width="1.7"/>
<path d="M288.0 1812.7L296.3 1821.0L288.0 1829.3L279.7 1821.0Z" fill="none" stroke="#0000ff" stroke-width="1.7"/>
<rect x="305.0" y="1815.4" width="19.7" height="19.7" fill="none" stroke="#ff0000" stroke-width="1.75"/>
<rect x="297.9" y="1829.8" width="19.7" height="19.7" fill="none" stroke="#ff0000" stroke-width="1.75"/>
<rect x="302.3" y="1834.0" width="11.8" height="11.8" fill="none" stroke="#0000ff" stroke-width="1.7"/>
<path d="M320.3 1826.9L329.3 1842.5L311.3 1842.5Z" fill="none" stroke="#0000ff" stroke-width="1.7"/>
<rect x="226.2" y="1889.0" width="11.8" height="11.8" fill="none" stroke="#0000ff" stroke-width="1.7"/>
<path d="M346.1 1671.9L354.4 1680.2L346.1 1688.5L337.8 1680.2Z" fill="none" stroke="#0000ff" stroke-width="1.7"/>
<path d="M346.6 1672.6L354.9 1680.9L346.6 1689.2L338.3 1680.9Z" fill="none" stroke="#0000ff" stroke-width="1.7"/>
<rect x="354.5" y="1798.6" width="19.7" height="19.7" fill="none" stroke="#ff0000" stroke-width="1.75"/>
<rect x="358.2" y="1817.2" width="19.7" height="19.7" fill="none" stroke="#ff0000" stroke-width="1.75"/>
<path d="M378.5 1813.2L386.8 1821.5L378.5 1829.8L370.2 1821.5Z" fill="none" stroke="#0000ff" stroke-width="1.7"/>
<rect x="461.1" y="1820.1" width="11.8" height="11.8" fill="none" stroke="#0000ff" stroke-width="1.7"/>
<rect x="485.3" y="1822.0" width="19.7" height="19.7" fill="none" stroke="#ff0000" stroke-width="1.75"/>
<rect x="475.7" y="1842.0" width="11.8" height="11.8" fill="none" stroke="#0000ff" stroke-width="1.7"/>
<path d="M544.8 1809.9L559.7 1835.7L529.9 1835.7Z" fill="none" stroke="#ff0000" stroke-width="1.75"/>
<path d="M658.6 1840.6L673.5 1866.4L643.7 1866.4Z" fill="none" stroke="#ff0000" stroke-width="1.75"/>
<line x1="232.3" y1="1894.9" x2="346.1" y2="1680.5" stroke="#dcdcdc" stroke-width="0.8" stroke-linecap="butt"/>
<line x1="307.8" y1="1480.0" x2="307.8" y2="2024.5" stroke="#000" stroke-width="2.6" stroke-dasharray="10.5 11.07" stroke-dashoffset="5.2" stroke-linecap="butt"/>
<path d="M111.4 1600.8L118.1 1604.9L124.9 1609.0L131.6 1613.1L138.4 1617.2L145.1 1621.2L151.9 1625.2L158.6 1629.1L165.4 1633.1L172.1 1636.9L178.9 1640.8L185.6 1644.6L192.3 1648.3L199.1 1652.0L205.8 1655.6L212.6 1659.2L219.3 1662.7L226.1 1666.2L232.8 1669.5L239.6 1672.8L246.3 1676.0L253.0 1679.2L259.8 1682.2L266.5 1685.2L273.3 1688.1L280.0 1690.8L286.8 1693.5L293.5 1696.1L300.3 1698.5L307.0 1700.9L313.8 1703.1L320.5 1705.3L327.2 1707.3L334.0 1709.3L340.7 1711.1L347.5 1712.8L354.2 1714.5L361.0 1716.0L367.7 1717.5L374.5 1718.9L381.2 1720.2L387.9 1721.4L394.7 1722.6L401.4 1723.7L408.2 1724.7L414.9 1725.6L421.7 1726.6L428.4 1727.4L435.2 1728.2L441.9 1729.0L448.6 1729.7L455.4 1730.4L462.1 1731.0L468.9 1731.6L475.6 1732.2L482.4 1732.7L489.1 1733.2L495.9 1733.7L502.6 1734.1L509.4 1734.6L516.1 1735.0L522.8 1735.4L529.6 1735.7L536.3 1736.1L543.1 1736.4L549.8 1736.8L556.6 1737.1L563.3 1737.3L570.1 1737.6L576.8 1737.9L583.5 1738.1L590.3 1738.4L597.0 1738.6L603.8 1738.8L610.5 1739.0L617.3 1739.2L624.0 1739.4L630.8 1739.6L637.5 1739.8L644.3 1739.9L651.0 1740.1L651.0 1998.0L644.3 1993.6L637.5 1989.2L630.8 1984.7L624.0 1980.4L617.3 1976.0L610.5 1971.6L603.8 1967.2L597.0 1962.8L590.3 1958.5L583.5 1954.2L576.8 1949.8L570.1 1945.5L563.3 1941.2L556.6 1936.9L549.8 1932.6L543.1 1928.4L536.3 1924.1L529.6 1919.9L522.8 1915.7L516.1 1911.5L509.4 1907.3L502.6 1903.2L495.9 1899.0L489.1 1894.9L482.4 1890.9L475.6 1886.8L468.9 1882.8L462.1 1878.8L455.4 1874.9L448.6 1871.0L441.9 1867.1L435.2 1863.3L428.4 1859.5L421.7 1855.8L414.9 1852.1L408.2 1848.5L401.4 1844.9L394.7 1841.4L387.9 1838.0L381.2 1834.7L374.5 1831.4L367.7 1828.2L361.0 1825.1L354.2 1822.0L347.5 1819.1L340.7 1816.3L334.0 1813.5L327.2 1810.9L320.5 1808.3L313.8 1805.9L307.0 1803.6L300.3 1801.4L293.5 1799.2L286.8 1797.2L280.0 1795.3L273.3 1793.5L266.5 1791.8L259.8 1790.2L253.0 1788.6L246.3 1787.2L239.6 1785.8L232.8 1784.5L226.1 1783.3L219.3 1782.2L212.6 1781.1L205.8 1780.1L199.1 1779.2L192.3 1778.3L185.6 1777.4L178.9 1776.6L172.1 1775.9L165.4 1775.2L158.6 1774.5L151.9 1773.9L145.1 1773.3L138.4 1772.8L131.6 1772.2L124.9 1771.7L118.1 1771.3L111.4 1770.8Z" fill="#999999" fill-opacity="0.4"/>
<path d="M169.8 1554.3L173.7 1559.1L177.6 1563.9L181.5 1568.7L185.4 1573.4L189.3 1578.2L193.2 1582.9L197.1 1587.6L201.0 1592.3L204.9 1596.9L208.8 1601.5L212.6 1606.1L216.5 1610.7L220.4 1615.2L224.3 1619.7L228.2 1624.1L232.1 1628.5L236.0 1632.9L239.9 1637.2L243.8 1641.4L247.7 1645.6L251.6 1649.8L255.5 1653.9L259.4 1657.9L263.3 1661.8L267.2 1665.7L271.1 1669.5L275.0 1673.2L278.9 1676.8L282.8 1680.3L286.6 1683.8L290.5 1687.1L294.4 1690.3L298.3 1693.5L302.2 1696.5L306.1 1699.4L310.0 1702.2L313.9 1704.9L317.8 1707.5L321.7 1710.0L325.6 1712.3L329.5 1714.6L333.4 1716.8L337.3 1718.9L341.2 1720.9L345.1 1722.8L349.0 1724.6L352.9 1726.3L356.8 1728.0L360.7 1729.6L364.5 1731.1L368.4 1732.6L372.3 1734.0L376.2 1735.3L380.1 1736.6L384.0 1737.9L387.9 1739.1L391.8 1740.3L395.7 1741.4L399.6 1742.5L403.5 1743.6L407.4 1744.6L411.3 1745.6L415.2 1746.6L419.1 1747.5L423.0 1748.4L426.9 1749.3L430.8 1750.2L434.7 1751.1L438.6 1751.9L442.4 1752.7L446.3 1753.5L450.2 1754.3L454.1 1755.1L458.0 1755.9L461.9 1756.6L465.8 1757.4L469.7 1758.1L473.6 1758.8L477.5 1759.5L481.4 1760.2L481.4 1993.8L477.5 1988.9L473.6 1984.0L469.7 1979.1L465.8 1974.2L461.9 1969.3L458.0 1964.4L454.1 1959.6L450.2 1954.7L446.3 1949.9L442.4 1945.1L438.6 1940.3L434.7 1935.5L430.8 1930.8L426.9 1926.0L423.0 1921.3L419.1 1916.6L415.2 1911.9L411.3 1907.3L407.4 1902.7L403.5 1898.1L399.6 1893.5L395.7 1889.0L391.8 1884.5L387.9 1880.1L384.0 1875.7L380.1 1871.3L376.2 1867.0L372.3 1862.7L368.4 1858.5L364.5 1854.4L360.7 1850.3L356.8 1846.2L352.9 1842.3L349.0 1838.4L345.1 1834.6L341.2 1830.9L337.3 1827.3L333.4 1823.7L329.5 1820.3L325.6 1817.0L321.7 1813.7L317.8 1810.6L313.9 1807.6L310.0 1804.6L306.1 1801.8L302.2 1799.1L298.3 1796.5L294.4 1794.0L290.5 1791.6L286.6 1789.4L282.8 1787.2L278.9 1785.1L275.0 1783.1L271.1 1781.2L267.2 1779.3L263.3 1777.6L259.4 1775.9L255.5 1774.3L251.6 1772.8L247.7 1771.3L243.8 1769.9L239.9 1768.5L236.0 1767.2L232.1 1766.0L228.2 1764.8L224.3 1763.6L220.4 1762.5L216.5 1761.4L212.6 1760.3L208.8 1759.3L204.9 1758.3L201.0 1757.3L197.1 1756.3L193.2 1755.4L189.3 1754.5L185.4 1753.6L181.5 1752.8L177.6 1751.9L173.7 1751.1L169.8 1750.3Z" fill="#999999" fill-opacity="0.4"/>
<line x1="169.8" y1="1652.3" x2="481.4" y2="1877.0" stroke="#0000ff" stroke-width="2.8" stroke-dasharray="2.8 8.37" stroke-linecap="butt"/>
<line x1="111.0" y1="1685.5" x2="657.7" y2="1871.2" stroke="#ff0000" stroke-width="2.6" stroke-dasharray="9.63 9.64" stroke-linecap="butt"/>
<circle cx="429.0" cy="1550.5" r="5.40" fill="none" stroke="#000000" stroke-width="1.6"/>
<text x="469.0" y="1560.8" font-size="28.4" text-anchor="start" font-family="Liberation Sans, sans-serif">grass</text>
<rect x="424.2" y="1594.0" width="9.6" height="9.6" fill="none" stroke="#000000" stroke-width="1.6"/>
<text x="469.0" y="1609.2" font-size="28.4" text-anchor="start" font-family="Liberation Sans, sans-serif">Plantago</text>
<path d="M429.0 1641.1L435.8 1647.9L429.0 1654.7L422.2 1647.9Z" fill="none" stroke="#000000" stroke-width="1.6"/>
<text x="469.0" y="1657.7" font-size="28.4" text-anchor="start" font-family="Liberation Sans, sans-serif">Taraxacum</text>
<path d="M429.0 1687.4L436.3 1700.0L421.7 1700.0Z" fill="none" stroke="#000000" stroke-width="1.6"/>
<text x="469.0" y="1705.9" font-size="28.4" text-anchor="start" font-family="Liberation Sans, sans-serif">Trifolium</text></svg>
</body></html>
